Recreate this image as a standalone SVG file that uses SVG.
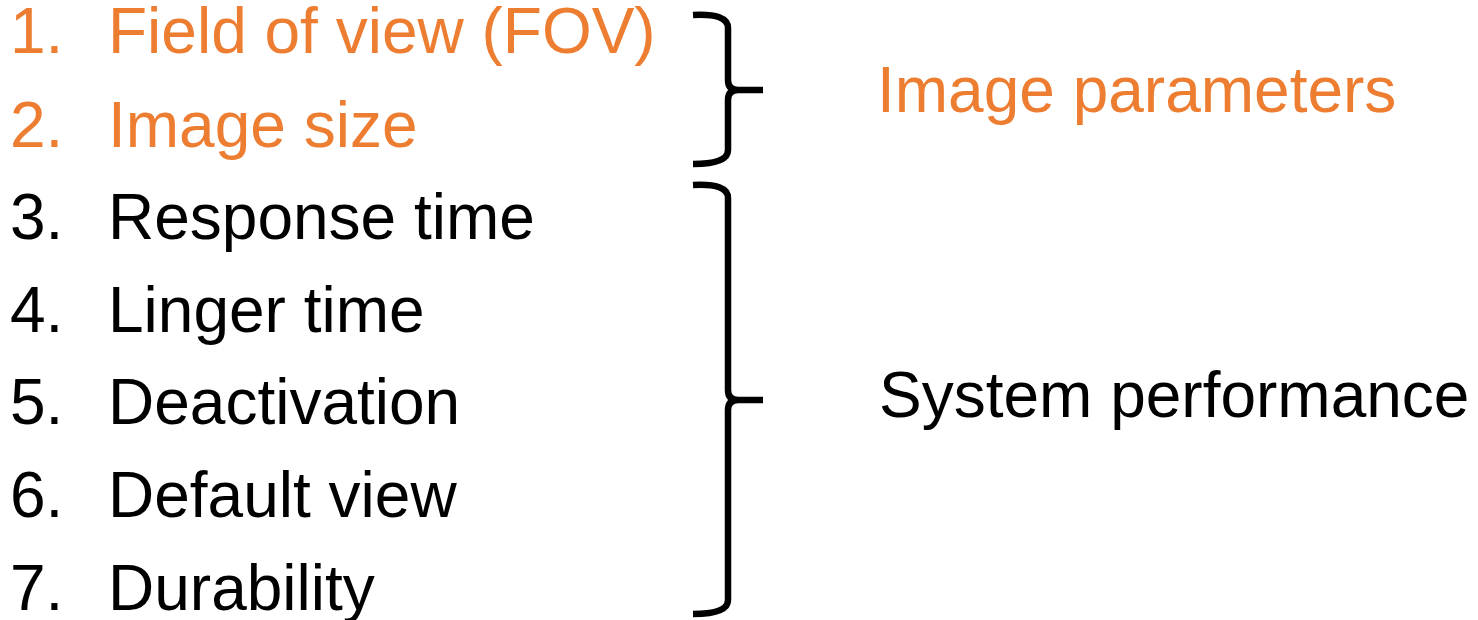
<svg xmlns="http://www.w3.org/2000/svg" width="1478" height="620" viewBox="0 0 1478 620">
<style>
text{font-family:"Liberation Sans",Arial,sans-serif;font-size:64px}
.o{fill:#ED7D31}
.k{fill:#000}
.br{fill:none;stroke:#000;stroke-width:6.5;stroke-linejoin:round}
</style>
<rect width="1478" height="620" fill="#fff"/>
<g id="item1" class="o"><text x="10" y="53.3">1.</text><text x="108" y="53.3">Field of view (FOV)</text></g>
<g id="item2" class="o"><text x="10" y="146.5">2.</text><text x="108" y="146.5">Image size</text></g>
<g id="item3" class="k"><text x="10" y="239.2">3.</text><text x="108" y="239.2">Response time</text></g>
<g id="item4" class="k"><text x="10" y="331.8">4.</text><text x="108" y="331.8">Linger time</text></g>
<g id="item5" class="k"><text x="10" y="424.4">5.</text><text x="108" y="424.4">Deactivation</text></g>
<g id="item6" class="k"><text x="10" y="517">6.</text><text x="108" y="517">Default view</text></g>
<g id="item7" class="k"><text x="10" y="609.6">7.</text><text x="108" y="609.6">Durability</text></g>
<g id="label-image" class="o"><text x="877" y="111.7">Image parameters</text></g>
<g id="label-system" class="k"><text x="879" y="416.7">System performance</text></g>
<g id="connectors">
<path class="br" d="M693,15 Q728,13 728,28 L728,80 Q728,90 738,90 L763,90 M738,90 Q728,90 728,100 L728,150 Q728,164 693,164"/>
<path class="br" d="M693,185 Q728,183 728,198 L728,390 Q728,400 738,400 L763,400 M738,400 Q728,400 728,410 L728,600 Q728,614 693,614"/>
</g>
</svg>
